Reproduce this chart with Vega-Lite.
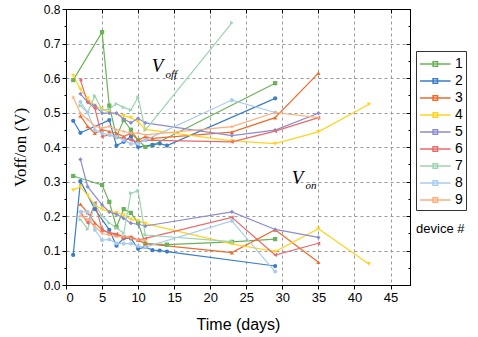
{
  "$schema": "https://vega.github.io/schema/vega-lite/v6.json",
  "width": 344,
  "height": 276,
  "autosize": "none",
  "padding": {"left": 66, "top": 9, "right": 68, "bottom": 52},
  "background": "white",
  "config": {
    "font": "Liberation Sans",
    "view": {"stroke": "black", "strokeWidth": 1},
    "axis": {"domainColor": "black", "tickColor": "black", "labelColor": "black", "titleColor": "black", "titleFontWeight": "normal"}
  },
  "datasets": {
    "pts": [
      {"device": "1", "k": "off", "t": 1, "v": 0.594},
      {"device": "1", "k": "off", "t": 5, "v": 0.733},
      {"device": "1", "k": "off", "t": 6, "v": 0.52},
      {"device": "1", "k": "off", "t": 7, "v": 0.43},
      {"device": "1", "k": "off", "t": 8, "v": 0.478},
      {"device": "1", "k": "off", "t": 9, "v": 0.45},
      {"device": "1", "k": "off", "t": 10, "v": 0.42},
      {"device": "1", "k": "off", "t": 11, "v": 0.4},
      {"device": "1", "k": "off", "t": 12, "v": 0.405},
      {"device": "1", "k": "off", "t": 29, "v": 0.585},
      {"device": "1", "k": "on", "t": 1, "v": 0.316},
      {"device": "1", "k": "on", "t": 5, "v": 0.29},
      {"device": "1", "k": "on", "t": 6, "v": 0.241},
      {"device": "1", "k": "on", "t": 7, "v": 0.168},
      {"device": "1", "k": "on", "t": 8, "v": 0.22},
      {"device": "1", "k": "on", "t": 9, "v": 0.209},
      {"device": "1", "k": "on", "t": 10, "v": 0.18},
      {"device": "1", "k": "on", "t": 11, "v": 0.12},
      {"device": "1", "k": "on", "t": 14, "v": 0.117},
      {"device": "1", "k": "on", "t": 23, "v": 0.125},
      {"device": "1", "k": "on", "t": 29, "v": 0.133},
      {"device": "2", "k": "off", "t": 1, "v": 0.476},
      {"device": "2", "k": "off", "t": 2, "v": 0.441},
      {"device": "2", "k": "off", "t": 6, "v": 0.478},
      {"device": "2", "k": "off", "t": 7, "v": 0.404},
      {"device": "2", "k": "off", "t": 8, "v": 0.415},
      {"device": "2", "k": "off", "t": 9, "v": 0.43},
      {"device": "2", "k": "off", "t": 10, "v": 0.4},
      {"device": "2", "k": "off", "t": 12, "v": 0.406},
      {"device": "2", "k": "off", "t": 13, "v": 0.41},
      {"device": "2", "k": "off", "t": 14, "v": 0.404},
      {"device": "2", "k": "off", "t": 29, "v": 0.541},
      {"device": "2", "k": "on", "t": 1, "v": 0.087},
      {"device": "2", "k": "on", "t": 2, "v": 0.301},
      {"device": "2", "k": "on", "t": 4, "v": 0.22},
      {"device": "2", "k": "on", "t": 6, "v": 0.16},
      {"device": "2", "k": "on", "t": 7, "v": 0.114},
      {"device": "2", "k": "on", "t": 8, "v": 0.135},
      {"device": "2", "k": "on", "t": 9, "v": 0.135},
      {"device": "2", "k": "on", "t": 10, "v": 0.105},
      {"device": "2", "k": "on", "t": 11, "v": 0.11},
      {"device": "2", "k": "on", "t": 12, "v": 0.101},
      {"device": "2", "k": "on", "t": 13, "v": 0.1},
      {"device": "2", "k": "on", "t": 14, "v": 0.097},
      {"device": "2", "k": "on", "t": 29, "v": 0.055},
      {"device": "3", "k": "off", "t": 2, "v": 0.49},
      {"device": "3", "k": "off", "t": 3, "v": 0.46},
      {"device": "3", "k": "off", "t": 4, "v": 0.44},
      {"device": "3", "k": "off", "t": 5, "v": 0.45},
      {"device": "3", "k": "off", "t": 6, "v": 0.445},
      {"device": "3", "k": "off", "t": 7, "v": 0.44},
      {"device": "3", "k": "off", "t": 8, "v": 0.43},
      {"device": "3", "k": "off", "t": 9, "v": 0.44},
      {"device": "3", "k": "off", "t": 10, "v": 0.42},
      {"device": "3", "k": "off", "t": 11, "v": 0.43},
      {"device": "3", "k": "off", "t": 12, "v": 0.425},
      {"device": "3", "k": "off", "t": 23, "v": 0.443},
      {"device": "3", "k": "off", "t": 29, "v": 0.485},
      {"device": "3", "k": "off", "t": 35, "v": 0.614},
      {"device": "3", "k": "on", "t": 2, "v": 0.234},
      {"device": "3", "k": "on", "t": 3, "v": 0.21},
      {"device": "3", "k": "on", "t": 4, "v": 0.18},
      {"device": "3", "k": "on", "t": 5, "v": 0.16},
      {"device": "3", "k": "on", "t": 6, "v": 0.15},
      {"device": "3", "k": "on", "t": 7, "v": 0.145},
      {"device": "3", "k": "on", "t": 8, "v": 0.137},
      {"device": "3", "k": "on", "t": 9, "v": 0.14},
      {"device": "3", "k": "on", "t": 10, "v": 0.13},
      {"device": "3", "k": "on", "t": 11, "v": 0.12},
      {"device": "3", "k": "on", "t": 23, "v": 0.094},
      {"device": "3", "k": "on", "t": 29, "v": 0.16},
      {"device": "3", "k": "on", "t": 35, "v": 0.066},
      {"device": "4", "k": "off", "t": 1, "v": 0.607},
      {"device": "4", "k": "off", "t": 2, "v": 0.567},
      {"device": "4", "k": "off", "t": 3, "v": 0.541},
      {"device": "4", "k": "off", "t": 4, "v": 0.52},
      {"device": "4", "k": "off", "t": 5, "v": 0.51},
      {"device": "4", "k": "off", "t": 6, "v": 0.5},
      {"device": "4", "k": "off", "t": 7, "v": 0.495},
      {"device": "4", "k": "off", "t": 8, "v": 0.49},
      {"device": "4", "k": "off", "t": 9, "v": 0.485},
      {"device": "4", "k": "off", "t": 10, "v": 0.473},
      {"device": "4", "k": "off", "t": 11, "v": 0.451},
      {"device": "4", "k": "off", "t": 23, "v": 0.418},
      {"device": "4", "k": "off", "t": 29, "v": 0.41},
      {"device": "4", "k": "off", "t": 35, "v": 0.444},
      {"device": "4", "k": "off", "t": 42, "v": 0.524},
      {"device": "4", "k": "on", "t": 1, "v": 0.275},
      {"device": "4", "k": "on", "t": 2, "v": 0.285},
      {"device": "4", "k": "on", "t": 3, "v": 0.26},
      {"device": "4", "k": "on", "t": 4, "v": 0.232},
      {"device": "4", "k": "on", "t": 5, "v": 0.22},
      {"device": "4", "k": "on", "t": 6, "v": 0.212},
      {"device": "4", "k": "on", "t": 7, "v": 0.21},
      {"device": "4", "k": "on", "t": 8, "v": 0.203},
      {"device": "4", "k": "on", "t": 9, "v": 0.19},
      {"device": "4", "k": "on", "t": 10, "v": 0.186},
      {"device": "4", "k": "on", "t": 11, "v": 0.178},
      {"device": "4", "k": "on", "t": 23, "v": 0.119},
      {"device": "4", "k": "on", "t": 29, "v": 0.097},
      {"device": "4", "k": "on", "t": 35, "v": 0.163},
      {"device": "4", "k": "on", "t": 42, "v": 0.061},
      {"device": "5", "k": "off", "t": 2, "v": 0.554},
      {"device": "5", "k": "off", "t": 3, "v": 0.53},
      {"device": "5", "k": "off", "t": 4, "v": 0.52},
      {"device": "5", "k": "off", "t": 5, "v": 0.498},
      {"device": "5", "k": "off", "t": 6, "v": 0.498},
      {"device": "5", "k": "off", "t": 7, "v": 0.498},
      {"device": "5", "k": "off", "t": 8, "v": 0.481},
      {"device": "5", "k": "off", "t": 9, "v": 0.47},
      {"device": "5", "k": "off", "t": 10, "v": 0.483},
      {"device": "5", "k": "off", "t": 11, "v": 0.47},
      {"device": "5", "k": "off", "t": 23, "v": 0.433},
      {"device": "5", "k": "off", "t": 29, "v": 0.449},
      {"device": "5", "k": "off", "t": 35, "v": 0.498},
      {"device": "5", "k": "on", "t": 2, "v": 0.364},
      {"device": "5", "k": "on", "t": 3, "v": 0.285},
      {"device": "5", "k": "on", "t": 5, "v": 0.232},
      {"device": "5", "k": "on", "t": 6, "v": 0.212},
      {"device": "5", "k": "on", "t": 7, "v": 0.205},
      {"device": "5", "k": "on", "t": 8, "v": 0.193},
      {"device": "5", "k": "on", "t": 9, "v": 0.179},
      {"device": "5", "k": "on", "t": 10, "v": 0.176},
      {"device": "5", "k": "on", "t": 11, "v": 0.171},
      {"device": "5", "k": "on", "t": 23, "v": 0.212},
      {"device": "5", "k": "on", "t": 29, "v": 0.161},
      {"device": "5", "k": "on", "t": 35, "v": 0.138},
      {"device": "6", "k": "off", "t": 2, "v": 0.594},
      {"device": "6", "k": "off", "t": 3, "v": 0.53},
      {"device": "6", "k": "off", "t": 4, "v": 0.512},
      {"device": "6", "k": "off", "t": 5, "v": 0.43},
      {"device": "6", "k": "off", "t": 6, "v": 0.435},
      {"device": "6", "k": "off", "t": 7, "v": 0.43},
      {"device": "6", "k": "off", "t": 8, "v": 0.425},
      {"device": "6", "k": "off", "t": 9, "v": 0.42},
      {"device": "6", "k": "off", "t": 10, "v": 0.415},
      {"device": "6", "k": "off", "t": 11, "v": 0.42},
      {"device": "6", "k": "off", "t": 23, "v": 0.415},
      {"device": "6", "k": "off", "t": 29, "v": 0.446},
      {"device": "6", "k": "off", "t": 35, "v": 0.485},
      {"device": "6", "k": "on", "t": 2, "v": 0.212},
      {"device": "6", "k": "on", "t": 3, "v": 0.18},
      {"device": "6", "k": "on", "t": 4, "v": 0.238},
      {"device": "6", "k": "on", "t": 5, "v": 0.16},
      {"device": "6", "k": "on", "t": 6, "v": 0.152},
      {"device": "6", "k": "on", "t": 7, "v": 0.148},
      {"device": "6", "k": "on", "t": 8, "v": 0.14},
      {"device": "6", "k": "on", "t": 9, "v": 0.137},
      {"device": "6", "k": "on", "t": 10, "v": 0.13},
      {"device": "6", "k": "on", "t": 11, "v": 0.135},
      {"device": "6", "k": "on", "t": 23, "v": 0.196},
      {"device": "6", "k": "on", "t": 29, "v": 0.087},
      {"device": "6", "k": "on", "t": 35, "v": 0.121},
      {"device": "7", "k": "off", "t": 2, "v": 0.52},
      {"device": "7", "k": "off", "t": 3, "v": 0.5},
      {"device": "7", "k": "off", "t": 4, "v": 0.548},
      {"device": "7", "k": "off", "t": 5, "v": 0.507},
      {"device": "7", "k": "off", "t": 6, "v": 0.51},
      {"device": "7", "k": "off", "t": 7, "v": 0.525},
      {"device": "7", "k": "off", "t": 8, "v": 0.515},
      {"device": "7", "k": "off", "t": 9, "v": 0.507},
      {"device": "7", "k": "off", "t": 10, "v": 0.544},
      {"device": "7", "k": "off", "t": 11, "v": 0.449},
      {"device": "7", "k": "off", "t": 23, "v": 0.76},
      {"device": "7", "k": "on", "t": 2, "v": 0.19},
      {"device": "7", "k": "on", "t": 3, "v": 0.162},
      {"device": "7", "k": "on", "t": 4, "v": 0.235},
      {"device": "7", "k": "on", "t": 5, "v": 0.2},
      {"device": "7", "k": "on", "t": 6, "v": 0.18},
      {"device": "7", "k": "on", "t": 7, "v": 0.165},
      {"device": "7", "k": "on", "t": 8, "v": 0.15},
      {"device": "7", "k": "on", "t": 9, "v": 0.266},
      {"device": "7", "k": "on", "t": 10, "v": 0.273},
      {"device": "7", "k": "on", "t": 11, "v": 0.145},
      {"device": "7", "k": "on", "t": 23, "v": 0.126},
      {"device": "8", "k": "off", "t": 2, "v": 0.531},
      {"device": "8", "k": "off", "t": 3, "v": 0.5},
      {"device": "8", "k": "off", "t": 4, "v": 0.449},
      {"device": "8", "k": "off", "t": 5, "v": 0.44},
      {"device": "8", "k": "off", "t": 6, "v": 0.435},
      {"device": "8", "k": "off", "t": 7, "v": 0.43},
      {"device": "8", "k": "off", "t": 8, "v": 0.42},
      {"device": "8", "k": "off", "t": 9, "v": 0.409},
      {"device": "8", "k": "off", "t": 10, "v": 0.41},
      {"device": "8", "k": "off", "t": 11, "v": 0.42},
      {"device": "8", "k": "off", "t": 23, "v": 0.536},
      {"device": "8", "k": "off", "t": 29, "v": 0.5},
      {"device": "8", "k": "on", "t": 2, "v": 0.212},
      {"device": "8", "k": "on", "t": 3, "v": 0.212},
      {"device": "8", "k": "on", "t": 4, "v": 0.16},
      {"device": "8", "k": "on", "t": 5, "v": 0.13},
      {"device": "8", "k": "on", "t": 6, "v": 0.132},
      {"device": "8", "k": "on", "t": 7, "v": 0.121},
      {"device": "8", "k": "on", "t": 8, "v": 0.12},
      {"device": "8", "k": "on", "t": 9, "v": 0.12},
      {"device": "8", "k": "on", "t": 10, "v": 0.113},
      {"device": "8", "k": "on", "t": 11, "v": 0.11},
      {"device": "8", "k": "on", "t": 23, "v": 0.186},
      {"device": "8", "k": "on", "t": 29, "v": 0.039},
      {"device": "9", "k": "off", "t": 1, "v": 0.544},
      {"device": "9", "k": "off", "t": 2, "v": 0.498},
      {"device": "9", "k": "off", "t": 3, "v": 0.48},
      {"device": "9", "k": "off", "t": 4, "v": 0.46},
      {"device": "9", "k": "off", "t": 5, "v": 0.455},
      {"device": "9", "k": "off", "t": 6, "v": 0.46},
      {"device": "9", "k": "off", "t": 7, "v": 0.45},
      {"device": "9", "k": "off", "t": 8, "v": 0.445},
      {"device": "9", "k": "off", "t": 9, "v": 0.44},
      {"device": "9", "k": "off", "t": 10, "v": 0.44},
      {"device": "9", "k": "off", "t": 11, "v": 0.435},
      {"device": "9", "k": "off", "t": 23, "v": 0.459},
      {"device": "9", "k": "off", "t": 29, "v": 0.5},
      {"device": "9", "k": "off", "t": 35, "v": 0.485},
      {"device": "9", "k": "on", "t": 2, "v": 0.2},
      {"device": "9", "k": "on", "t": 3, "v": 0.19},
      {"device": "9", "k": "on", "t": 4, "v": 0.17},
      {"device": "9", "k": "on", "t": 5, "v": 0.15},
      {"device": "9", "k": "on", "t": 6, "v": 0.145},
      {"device": "9", "k": "on", "t": 7, "v": 0.14},
      {"device": "9", "k": "on", "t": 8, "v": 0.14},
      {"device": "9", "k": "on", "t": 9, "v": 0.135},
      {"device": "9", "k": "on", "t": 10, "v": 0.13},
      {"device": "9", "k": "on", "t": 11, "v": 0.13}
    ],
    "bigtext": [
      {"t": 11.9, "v": 0.635, "label": "V"},
      {"t": 31.3, "v": 0.31, "label": "V"}
    ],
    "subtext": [
      {"t": 13.8, "v": 0.61, "label": "off"},
      {"t": 33.2, "v": 0.287, "label": "on"}
    ],
    "legtitle": [
      {"t": 51.9, "v": 0.162, "label": "device #"}
    ]
  },
  "layer": [
    {
      "data": {"name": "pts"},
      "mark": {"type": "line", "strokeWidth": 1.2},
      "encoding": {
        "x": {
          "field": "t", "type": "quantitative",
          "scale": {"domain": [0, 47.7], "nice": false, "zero": false},
          "axis": {
            "orient": "bottom", "values": [0, 5, 10, 15, 20, 25, 30, 35, 40, 45],
            "grid": true, "gridDash": [3, 3], "gridColor": "#9a9a9a", "gridWidth": 1,
            "tickSize": 4, "labelPadding": 2, "labelFontSize": 13, "labelFont": "Liberation Sans",
            "title": "Time (days)", "titleFontSize": 16, "titleFont": "Liberation Sans", "titlePadding": 12
          }
        },
        "y": {
          "field": "v", "type": "quantitative",
          "scale": {"domain": [0, 0.8], "nice": false, "zero": false},
          "axis": {
            "orient": "left",
            "values": [0, 0.05, 0.1, 0.15, 0.2, 0.25, 0.3, 0.35, 0.4, 0.45, 0.5, 0.55, 0.6, 0.65, 0.7, 0.75, 0.8],
            "labelExpr": "round(datum.value*100)%10==0 ? format(datum.value,'.1f') : ''",
            "tickSize": {"condition": {"test": "round(datum.value*100)%10==0", "value": 4}, "value": 2},
            "gridOpacity": {"condition": {"test": "round(datum.value*100)%10==0 && datum.value>0.01 && datum.value<0.79", "value": 1}, "value": 0},
            "grid": true, "gridDash": [3, 3], "gridColor": "#9a9a9a",
            "labelPadding": 2, "labelFontSize": 12, "labelFont": "Liberation Sans",
            "title": "Voff/on (V)", "titleFont": "Liberation Serif", "titleFontSize": 17, "titlePadding": 14
          }
        },
        "color": {
          "field": "device", "type": "nominal",
          "scale": {
            "domain": ["1", "2", "3", "4", "5", "6", "7", "8", "9"],
            "range": ["#6BB35A", "#3A7DC8", "#F06A2A", "#FFD320", "#8C8CD0", "#E96A6A", "#9DD3B0", "#A8CCEE", "#FCAE7A"]
          },
          "legend": {
            "orient": "none", "legendX": 350, "legendY": 42,
            "title": null,
            "strokeColor": "#333", "padding": 3,
            "symbolType": "M-1,0H2.4M0.45,-0.25H0.95V0.25H0.45Z",
            "symbolSize": 324, "symbolStrokeWidth": 1.5,
            "rowPadding": -0.8,
            "labelFontSize": 14, "labelFont": "Liberation Sans", "labelColor": "black", "labelOffset": 16
          }
        },
        "detail": {"field": "k"},
        "order": {"field": "t"}
      }
    },
    {
      "data": {"name": "pts"},
      "mark": {"type": "point", "filled": true, "size": 18, "opacity": 1},
      "encoding": {
        "x": {
          "field": "t", "type": "quantitative",
          "scale": {"domain": [0, 47.7], "nice": false, "zero": false},
          "axis": {"orient": "top", "values": [0, 5, 10, 15, 20, 25, 30, 35, 40, 45], "labels": false, "grid": false, "tickSize": -4, "title": null}
        },
        "y": {
          "field": "v", "type": "quantitative",
          "scale": {"domain": [0, 0.8], "nice": false, "zero": false},
          "axis": {
            "orient": "right",
            "values": [0, 0.05, 0.1, 0.15, 0.2, 0.25, 0.3, 0.35, 0.4, 0.45, 0.5, 0.55, 0.6, 0.65, 0.7, 0.75, 0.8],
            "labels": false, "grid": false, "title": null,
            "tickSize": {"condition": {"test": "round(datum.value*100)%10==0", "value": -4}, "value": -2}
          }
        },
        "color": {
          "field": "device", "type": "nominal", "legend": null,
          "scale": {
            "domain": ["1", "2", "3", "4", "5", "6", "7", "8", "9"],
            "range": ["#6BB35A", "#3A7DC8", "#F06A2A", "#FFD320", "#8C8CD0", "#E96A6A", "#9DD3B0", "#A8CCEE", "#FCAE7A"]
          }
        },
        "shape": {
          "field": "device", "type": "nominal",
          "scale": {
            "domain": ["1", "2", "3", "4", "5", "6", "7", "8", "9"],
            "range": ["square", "circle", "triangle-up", "triangle-down", "diamond", "triangle-left", "triangle-right", "M0,-1L0.866,-0.5L0.866,0.5L0,1L-0.866,0.5L-0.866,-0.5Z", "M0,-1L0.24,-0.33L0.95,-0.31L0.38,0.12L0.59,0.81L0,0.4L-0.59,0.81L-0.38,0.12L-0.95,-0.31L-0.24,-0.33Z"]
          },
          "legend": null
        }
      }
    },
    {
      "data": {"name": "bigtext"},
      "mark": {"type": "text", "font": "Liberation Serif", "fontStyle": "italic", "fontSize": 19, "align": "left", "baseline": "middle"},
      "encoding": {
        "x": {"field": "t", "type": "quantitative", "scale": {"domain": [0, 47.7], "nice": false, "zero": false}, "axis": null},
        "y": {"field": "v", "type": "quantitative", "scale": {"domain": [0, 0.8], "nice": false, "zero": false}, "axis": null},
        "text": {"field": "label"},
        "color": {"value": "black"}
      }
    },
    {
      "data": {"name": "subtext"},
      "mark": {"type": "text", "font": "Liberation Serif", "fontStyle": "italic", "fontSize": 11, "align": "left", "baseline": "middle"},
      "encoding": {
        "x": {"field": "t", "type": "quantitative", "scale": {"domain": [0, 47.7], "nice": false, "zero": false}, "axis": null},
        "y": {"field": "v", "type": "quantitative", "scale": {"domain": [0, 0.8], "nice": false, "zero": false}, "axis": null},
        "text": {"field": "label"},
        "color": {"value": "black"}
      }
    },
    {
      "data": {"name": "legtitle"},
      "mark": {"type": "text", "font": "Liberation Sans", "fontSize": 13, "align": "center", "baseline": "middle"},
      "encoding": {
        "x": {"field": "t", "type": "quantitative", "scale": {"domain": [0, 47.7], "nice": false, "zero": false}, "axis": null},
        "y": {"field": "v", "type": "quantitative", "scale": {"domain": [0, 0.8], "nice": false, "zero": false}, "axis": null},
        "text": {"field": "label"},
        "color": {"value": "black"}
      }
    }
  ],
  "resolve": {"axis": {"x": "independent", "y": "independent"}, "scale": {"color": "independent"}}
}
